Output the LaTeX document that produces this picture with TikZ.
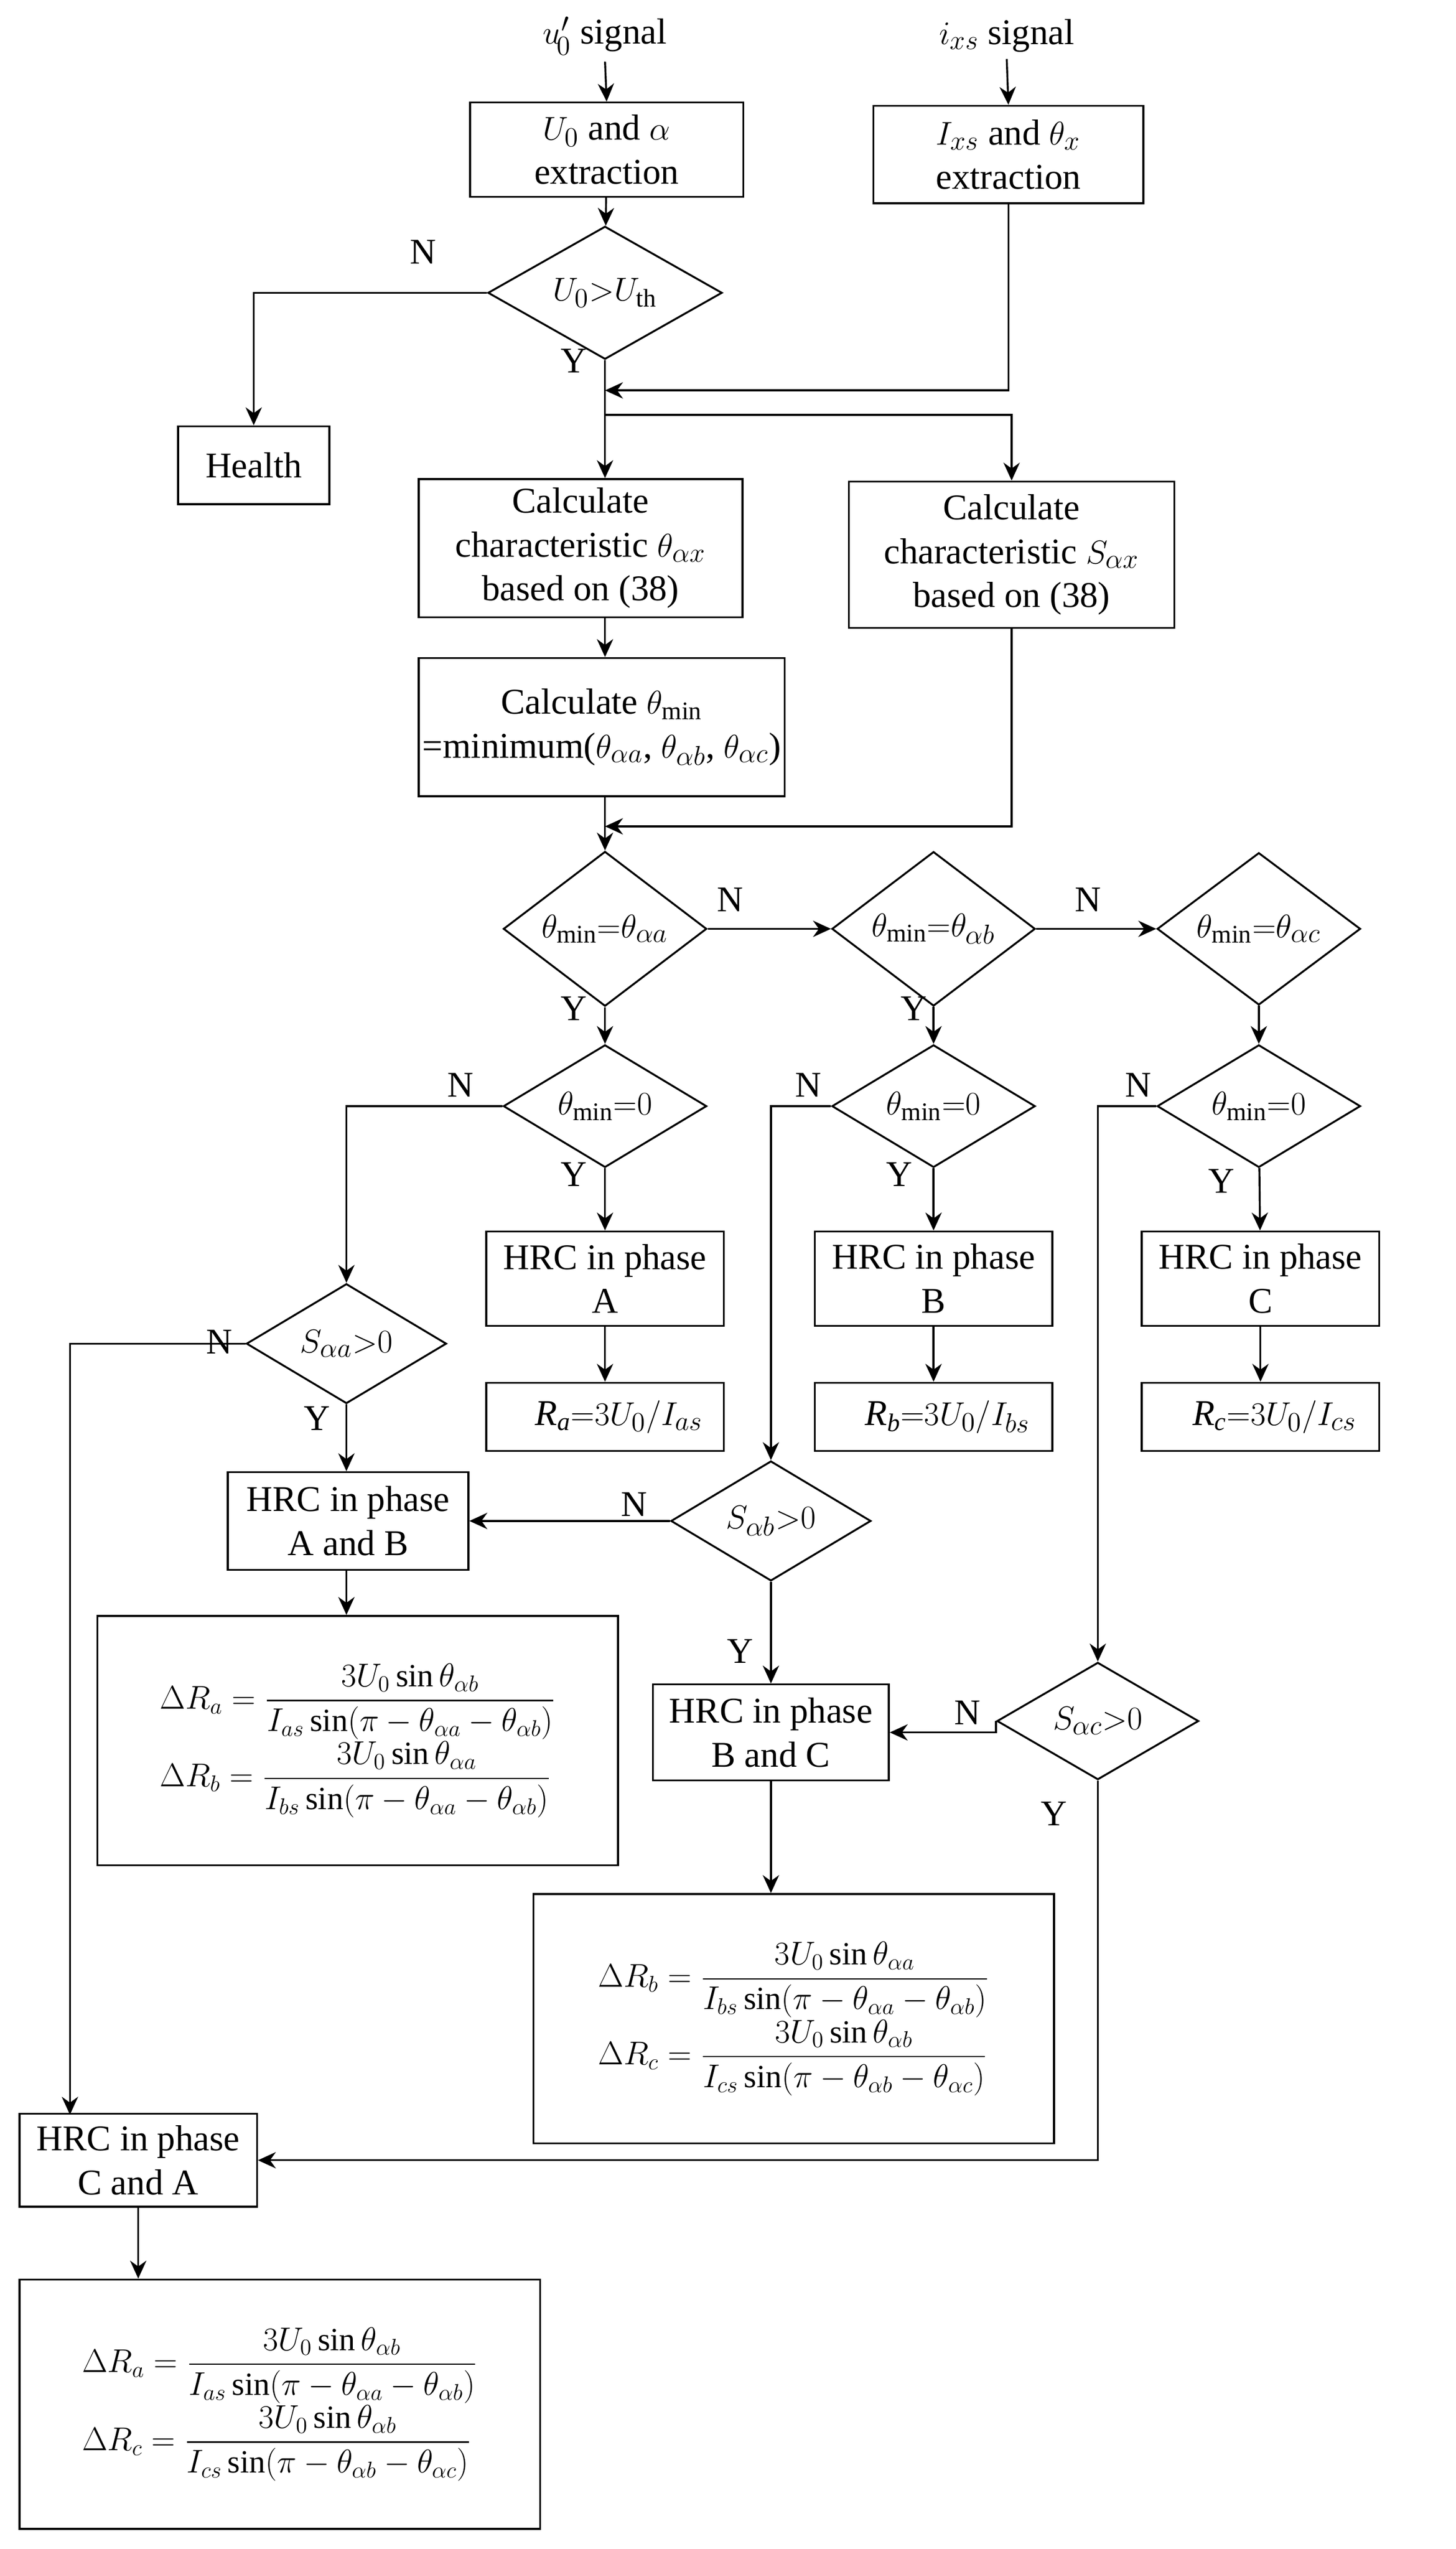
\documentclass[tikz,border=0pt]{standalone}
\usepackage{amsmath}
\usepackage{fontspec}
\setmainfont{Liberation Serif}
\usetikzlibrary{shapes.geometric,arrows.meta}
\begin{document}
\begin{tikzpicture}[x=0.03cm,y=-0.03cm,
  every node/.style={font=\fontsize{19}{23}\selectfont},
  box/.style={draw,line width=1pt,align=center,inner sep=1pt},
  dia/.style={draw,diamond,line width=1pt,inner sep=0pt,minimum width=3.75cm,minimum height=1.92cm},
  fm/.style={draw,line width=1pt,align=left,inner sep=2pt,font=\fontsize{17}{20}\selectfont,minimum width=9.6cm,minimum height=4.6cm},
  lab/.style={font=\fontsize{19}{23}\selectfont},
  arr/.style={line width=1pt,-{Stealth[length=3.3mm,width=3mm]}},
  ln/.style={line width=1pt}]
\useasboundingbox (0,0) rectangle (895,1567);
% top
\node (us) at (372,22) {$u'_{\!0}$ signal};
\node (is) at (619,22) {$i_{xs}$ signal};
\node[box,minimum width=5.04cm,minimum height=1.74cm] (uext) at (373,92) {$U_0$ and $\alpha$\\extraction};
\node[box,minimum width=4.98cm,minimum height=1.8cm] (iext) at (620,95) {$I_{xs}$ and $\theta_x$\\extraction};
\node[dia,minimum width=4.32cm,minimum height=1.62cm] (d0) at (372,180) {$U_0{>}U_{\rm th}$};
\node[box,minimum width=2.79cm,minimum height=1.44cm] (health) at (156,286) {Health};
\node[box,minimum width=5.97cm,minimum height=2.55cm] (calc1) at (357,337) {Calculate\\characteristic $\theta_{\alpha x}$\\based on (38)};
\node[box,minimum width=6cm,minimum height=2.7cm] (calc2) at (622,341) {Calculate\\characteristic $S_{\alpha x}$\\based on (38)};
\node[box,minimum width=6.75cm,minimum height=2.55cm] (thmin) at (370,447) {Calculate $\theta_{\min}$\\=minimum($\theta_{\alpha a}$, $\theta_{\alpha b}$, $\theta_{\alpha c}$)};
\coordinate (j1) at (372,240);
\coordinate (j2) at (372,255);
\coordinate (j3) at (372,508);
% decisions row
\node[dia] (dA) at (372,571) {$\theta_{\min}{=}\theta_{\alpha a}$};
\node[dia] (dB) at (574,571) {$\theta_{\min}{=}\theta_{\alpha b}$};
\node[dia] (dC) at (774,571) {$\theta_{\min}{=}\theta_{\alpha c}$};
\node[dia] (dA0) at (372,680) {$\theta_{\min}{=}0$};
\node[dia] (dB0) at (574,680) {$\theta_{\min}{=}0$};
\node[dia] (dC0) at (774,680) {$\theta_{\min}{=}0$};
\node[box,minimum width=4.38cm,minimum height=1.74cm] (hA) at (372,786) {HRC in phase\\A};
\node[box,minimum width=4.38cm,minimum height=1.74cm] (hB) at (574,786) {HRC in phase\\B};
\node[box,minimum width=4.38cm,minimum height=1.74cm] (hC) at (775,786) {HRC in phase\\C};
\node[box,minimum width=4.38cm,minimum height=1.26cm] (rA) at (372,871) {$\mathit{\Delta R_a}{=}3U_0/I_{as}$};
\node[box,minimum width=4.38cm,minimum height=1.26cm] (rB) at (574,871) {$\mathit{\Delta R_b}{=}3U_0/I_{bs}$};
\node[box,minimum width=4.38cm,minimum height=1.26cm] (rC) at (775,871) {$\mathit{\Delta R_c}{=}3U_0/I_{cs}$};
\node[dia,minimum width=3.69cm,minimum height=1.74cm] (sAA) at (213,826) {$S_{\alpha a}{>}0$};
\node[dia,minimum width=3.69cm,minimum height=1.8cm] (sAB) at (474,935) {$S_{\alpha b}{>}0$};
\node[dia,minimum width=3.72cm,minimum height=1.71cm] (sAC) at (675,1058) {$S_{\alpha c}{>}0$};
\node[box,minimum width=4.44cm,minimum height=1.8cm] (hAB) at (214,935) {HRC in phase\\A and B};
\node[box,minimum width=4.35cm,minimum height=1.77cm] (hBC) at (474,1065) {HRC in phase\\B and C};
\node[box,minimum width=4.38cm,minimum height=1.71cm] (hCA) at (85,1328) {HRC in phase\\C and A};
\node[fm] (fAB) at (220,1070) {$\Delta R_a=\dfrac{3U_0\sin\theta_{\alpha b}}{I_{as}\sin(\pi-\theta_{\alpha a}-\theta_{\alpha b})}$\\$\Delta R_b=\dfrac{3U_0\sin\theta_{\alpha a}}{I_{bs}\sin(\pi-\theta_{\alpha a}-\theta_{\alpha b})}$};
\node[fm] (fBC) at (488,1241) {$\Delta R_b=\dfrac{3U_0\sin\theta_{\alpha a}}{I_{bs}\sin(\pi-\theta_{\alpha a}-\theta_{\alpha b})}$\\$\Delta R_c=\dfrac{3U_0\sin\theta_{\alpha b}}{I_{cs}\sin(\pi-\theta_{\alpha b}-\theta_{\alpha c})}$};
\node[fm] (fCA) at (172,1478) {$\Delta R_a=\dfrac{3U_0\sin\theta_{\alpha b}}{I_{as}\sin(\pi-\theta_{\alpha a}-\theta_{\alpha b})}$\\$\Delta R_c=\dfrac{3U_0\sin\theta_{\alpha b}}{I_{cs}\sin(\pi-\theta_{\alpha b}-\theta_{\alpha c})}$};
\coordinate (cA) at (43,1300);
% labels
\node[lab] at (260,155) {N};
\node[lab] at (353,222) {Y};
\node[lab] at (449,553) {N};
\node[lab] at (669,553) {N};
\node[lab] at (353,620) {Y};
\node[lab] at (562,620) {Y};
\node[lab] at (353,722) {Y};
\node[lab] at (553,722) {Y};
\node[lab] at (751,726) {Y};
\node[lab] at (283,667) {N};
\node[lab] at (497,667) {N};
\node[lab] at (700,667) {N};
\node[lab] at (135,825) {N};
\node[lab] at (195,872) {Y};
\node[lab] at (390,925) {N};
\node[lab] at (455,1015) {Y};
\node[lab] at (595,1053) {N};
\node[lab] at (648,1115) {Y};
% connectors
\draw[arr] (us.south) -- (uext.north);
\draw[arr] (is.south) -- (iext.north);
\draw[arr] (uext) -- (d0);
\draw[arr] (d0.west) -| (health.north);
\draw[ln] (d0.south) -- (j1);
\draw[arr] (iext.south) |- (j1);
\draw[arr] (j1) -- (calc1.north -| j1);
\draw[arr] (j2) -| (calc2.north);
\draw[arr] (calc1.south -| j1) -- (thmin.north -| j1);
\draw[arr] (calc2.south) |- (j3);
\draw[arr] (thmin.south -| j3) -- (dA.north);
\draw[arr] (dA) -- (dB);
\draw[arr] (dB) -- (dC);
\draw[arr] (dA) -- (dA0);
\draw[arr] (dB) -- (dB0);
\draw[arr] (dC) -- (dC0);
\draw[arr] (dA0) -- (hA);
\draw[arr] (dB0) -- (hB);
\draw[arr] (dC0) -- (hC);
\draw[arr] (hA) -- (rA);
\draw[arr] (hB) -- (rB);
\draw[arr] (hC) -- (rC);
\draw[arr] (dA0.west) -| (sAA.north);
\draw[arr] (dB0.west) -| (sAB.north);
\draw[arr] (dC0.west) -| (sAC.north);
\draw[arr] (sAA.west) -| (cA);
\draw[arr] (sAA.south) -- (hAB.north -| sAA.south);
\draw[arr] (hAB.south -| sAA.south) -- (fAB.north -| sAA.south);
\draw[arr] (sAB.west) -- (hAB.east);
\draw[arr] (sAB.south) -- (hBC.north);
\draw[arr] (hBC.south) -- (fBC.north -| hBC.south);
\draw[arr] (sAC.west) -- (hBC.east -| sAC.west) -- (hBC.east);
\draw[arr] (sAC.south) |- (hCA.east);
\draw[arr] (hCA.south) -- (fCA.north -| hCA.south);
\end{tikzpicture}
\end{document}
